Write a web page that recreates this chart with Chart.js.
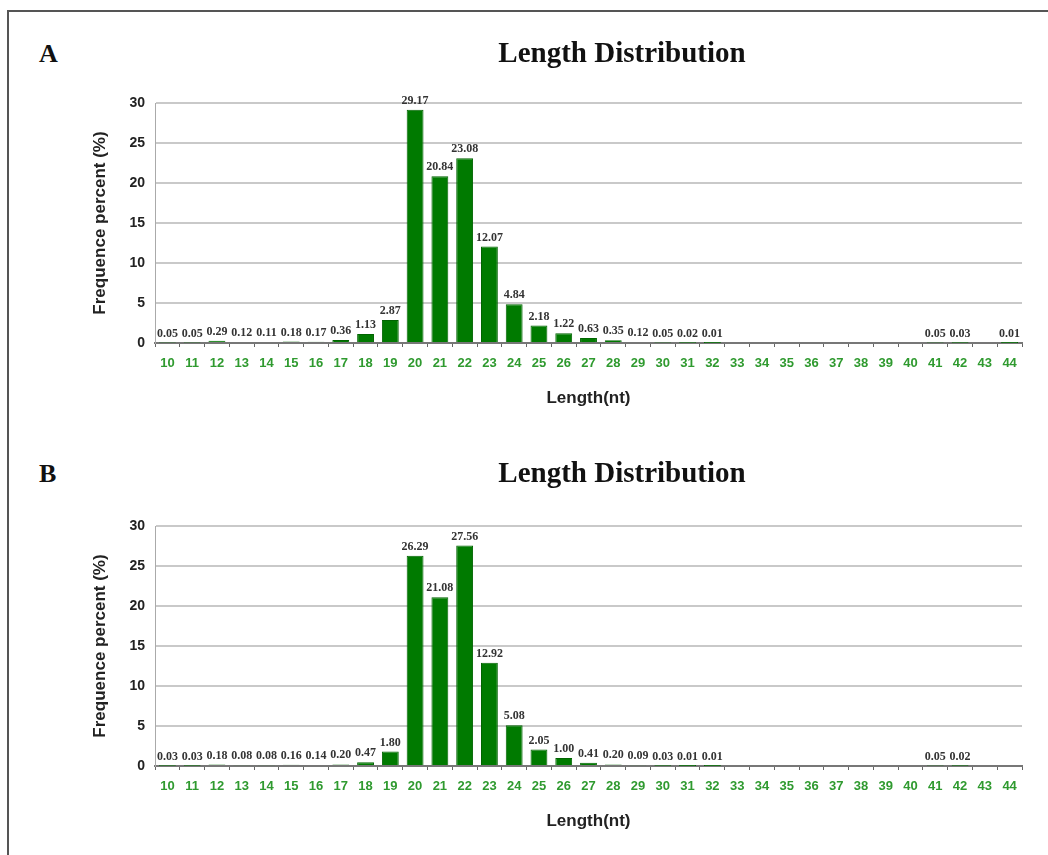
<!DOCTYPE html>
<html lang="en">
<head>
  <meta charset="UTF-8">
  <title>Length Distribution</title>
  <style>
    body { margin: 0; background: #fff; width: 1048px; height: 855px; overflow: hidden; position: relative; }
    #frame { position: absolute; left: 7px; top: 10px; width: 1100px; height: 900px; border: 2px solid #555; }
    .panel { position: absolute; left: 0; }
    .letter { position: absolute; left: 39px; font: bold 26px "Liberation Serif", "Times New Roman", serif; color: #111; }
  </style>
</head>
<body>
  <div id="frame"></div>
  <div class="letter" style="top:39px">A</div>
  <div class="letter" style="top:459px">B</div>
  <canvas id="chartA" class="panel" style="top:0px" width="1048" height="409"></canvas>
  <canvas id="chartB" class="panel" style="top:423px" width="1048" height="409"></canvas>

  <script src="https://cdn.jsdelivr.net/npm/chart.js"></script>
  <script>
    const lengths = ['10','11','12','13','14','15','16','17','18','19','20','21','22','23','24','25','26',
                     '27','28','29','30','31','32','33','34','35','36','37','38','39','40','41','42','43','44'];

    const percentA = [0.05, 0.05, 0.29, 0.12, 0.11, 0.18, 0.17, 0.36, 1.13, 2.87, 29.17, 20.84, 23.08, 12.07,
                      4.84, 2.18, 1.22, 0.63, 0.35, 0.12, 0.05, 0.02, 0.01,
                      null, null, null, null, null, null, null, null, 0.05, 0.03, null, 0.01];

    const percentB = [0.03, 0.03, 0.18, 0.08, 0.08, 0.16, 0.14, 0.20, 0.47, 1.80, 26.29, 21.08, 27.56, 12.92,
                      5.08, 2.05, 1.00, 0.41, 0.20, 0.09, 0.03, 0.01, 0.01,
                      null, null, null, null, null, null, null, null, 0.05, 0.02, null, null];

    const yTicks = [0, 5, 10, 15, 20, 25, 30];

    // value labels above each bar
    const barLabels = {
      id: 'barLabels',
      afterDatasetsDraw(chart) {
        const ctx = chart.ctx;
        const meta = chart.getDatasetMeta(0);
        const values = chart.data.datasets[0].data;
        ctx.save();
        ctx.font = 'bold 12px "Liberation Serif", "Times New Roman", serif';
        ctx.fillStyle = '#333';
        ctx.textAlign = 'center';
        ctx.textBaseline = 'bottom';
        meta.data.forEach((bar, i) => {
          if (values[i] == null) return;
          ctx.fillText(values[i].toFixed(2), bar.x, bar.y - 3);
        });
        ctx.restore();
      }
    };

    // chart heading, placed like the original figure (not centred on the canvas)
    const heading = {
      id: 'heading',
      afterDraw(chart, args, opts) {
        const ctx = chart.ctx;
        ctx.save();
        ctx.font = 'bold 29px "Liberation Serif", "Times New Roman", serif';
        ctx.fillStyle = '#111';
        ctx.textAlign = 'center';
        ctx.textBaseline = 'middle';
        ctx.fillText(opts.text, opts.x, opts.y);
        ctx.restore();
      }
    };

    function makeChart(canvasId, values, titleY) {
      return new Chart(document.getElementById(canvasId), {
        type: 'bar',
        data: {
          labels: lengths,
          datasets: [{
            data: values,
            backgroundColor: '#007a00',
            borderColor: '#006400',
            borderWidth: 1,
            barPercentage: 0.68,
            categoryPercentage: 1.0
          }]
        },
        options: {
          responsive: false,
          animation: false,
          devicePixelRatio: 1,
          layout: { padding: { left: 90, right: 26, top: 103, bottom: 0 } },
          plugins: {
            legend: { display: false },
            tooltip: { enabled: false },
            title: { display: false },
            heading: { text: 'Length Distribution', x: 622, y: titleY }
          },
          scales: {
            x: {
              grid: { drawOnChartArea: false, drawTicks: true, tickLength: 4, color: '#666' },
              border: { display: true, color: '#777', width: 2 },
              ticks: {
                autoSkip: false, maxRotation: 0, padding: 9,
                color: '#2f9a2f',
                font: { family: 'Arial, "Liberation Sans", sans-serif', size: 13, weight: 'bold' }
              },
              title: {
                display: true, text: 'Length(nt)', color: '#222',
                font: { family: 'Arial, "Liberation Sans", sans-serif', size: 17, weight: 'bold' },
                padding: { top: 8, bottom: 0 }
              }
            },
            y: {
              min: 0, max: 30,
              afterFit(scale) { scale.width = 65; },
              afterBuildTicks(scale) { scale.ticks = yTicks.map(v => ({ value: v })); },
              grid: { drawTicks: false, color: '#c9c9c9', lineWidth: 2 },
              border: { display: true, color: '#aaa', width: 1 },
              ticks: {
                padding: 10, color: '#222',
                font: { family: 'Arial, "Liberation Sans", sans-serif', size: 14, weight: 'bold' }
              },
              title: {
                display: true, text: 'Frequence percent (%)', color: '#222',
                font: { family: 'Arial, "Liberation Sans", sans-serif', size: 17, weight: 'bold' },
                padding: 0
              }
            }
          }
        },
        plugins: [barLabels, heading]
      });
    }

    makeChart('chartA', percentA, 55);
    makeChart('chartB', percentB, 52);
  </script>
</body>
</html>
